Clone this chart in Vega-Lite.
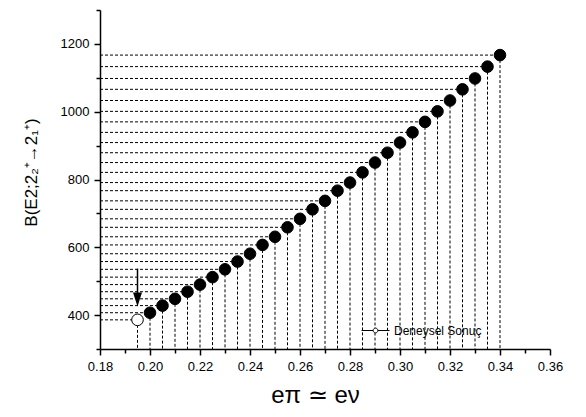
{
  "$schema": "https://vega.github.io/schema/vega-lite/v6.json",
  "width": 450,
  "height": 339,
  "autosize": {"type": "none"},
  "padding": {"left": 100, "top": 10, "right": 36, "bottom": 68},
  "background": "white",
  "config": {"view": {"stroke": null}, "font": "Liberation Sans"},
  "datasets": {
    "pts": [
      {"x": 0.195, "y": 386, "kind": "Deneysel Sonuç"},
      {"x": 0.200, "y": 407, "kind": "Hesap"},
      {"x": 0.205, "y": 428, "kind": "Hesap"},
      {"x": 0.210, "y": 448, "kind": "Hesap"},
      {"x": 0.215, "y": 469, "kind": "Hesap"},
      {"x": 0.220, "y": 490, "kind": "Hesap"},
      {"x": 0.225, "y": 512, "kind": "Hesap"},
      {"x": 0.230, "y": 535, "kind": "Hesap"},
      {"x": 0.235, "y": 558, "kind": "Hesap"},
      {"x": 0.240, "y": 581, "kind": "Hesap"},
      {"x": 0.245, "y": 607, "kind": "Hesap"},
      {"x": 0.250, "y": 631, "kind": "Hesap"},
      {"x": 0.255, "y": 659, "kind": "Hesap"},
      {"x": 0.260, "y": 684, "kind": "Hesap"},
      {"x": 0.265, "y": 712, "kind": "Hesap"},
      {"x": 0.270, "y": 737, "kind": "Hesap"},
      {"x": 0.275, "y": 767, "kind": "Hesap"},
      {"x": 0.280, "y": 791, "kind": "Hesap"},
      {"x": 0.285, "y": 821, "kind": "Hesap"},
      {"x": 0.290, "y": 850, "kind": "Hesap"},
      {"x": 0.295, "y": 879, "kind": "Hesap"},
      {"x": 0.300, "y": 909, "kind": "Hesap"},
      {"x": 0.305, "y": 939, "kind": "Hesap"},
      {"x": 0.310, "y": 970, "kind": "Hesap"},
      {"x": 0.315, "y": 1001, "kind": "Hesap"},
      {"x": 0.320, "y": 1033, "kind": "Hesap"},
      {"x": 0.325, "y": 1066, "kind": "Hesap"},
      {"x": 0.330, "y": 1098, "kind": "Hesap"},
      {"x": 0.335, "y": 1133, "kind": "Hesap"},
      {"x": 0.340, "y": 1167, "kind": "Hesap"}
    ],
    "shaft": [{"x": 0.195, "y": 537, "y2": 462}],
    "head": [{"x": 0.195, "y": 446}]
  },
  "encoding": {
    "x": {
      "field": "x",
      "type": "quantitative",
      "scale": {"domain": [0.18, 0.36], "nice": false, "zero": false},
      "axis": {
        "title": "eπ ≃ eν",
        "titleX": 215,
        "values": [0.18, 0.19, 0.2, 0.21, 0.22, 0.23, 0.24, 0.25, 0.26, 0.27, 0.28, 0.29, 0.3, 0.31, 0.32, 0.33, 0.34, 0.35, 0.36],
        "labelExpr": "round(datum.value*100)%2==0 ? format(datum.value,'.2f') : ''",
        "tickSize": {"condition": {"test": "round(datum.value*100)%2==0", "value": 6}, "value": 4},
        "grid": false,
        "domainColor": "black",
        "domainWidth": 1.5,
        "tickColor": "black",
        "tickWidth": 1.5,
        "labelColor": "black",
        "labelFontSize": 13,
        "labelPadding": 5,
        "labelFlush": false,
        "labelOverlap": false,
        "titleFontSize": 24,
        "titleFontWeight": "normal",
        "titleColor": "black",
        "titlePadding": 10
      }
    },
    "y": {
      "field": "y",
      "type": "quantitative",
      "scale": {"domain": [300, 1300], "nice": false, "zero": false},
      "axis": {
        "title": "B(E2;2₂⁺→2₁⁺)",
        "titleY": 162,
        "values": [300, 400, 500, 600, 700, 800, 900, 1000, 1100, 1200, 1300],
        "labelExpr": "(datum.value%200==0 && datum.value>=400 && datum.value<=1200) ? format(datum.value,'d') : ''",
        "tickSize": {"condition": {"test": "datum.value%200==0", "value": 6}, "value": 4},
        "grid": false,
        "domainColor": "black",
        "domainWidth": 1.5,
        "tickColor": "black",
        "tickWidth": 1.5,
        "labelColor": "black",
        "labelFontSize": 13,
        "labelPadding": 5,
        "labelFlush": false,
        "labelOverlap": false,
        "titleFontSize": 17,
        "titleFontWeight": "normal",
        "titleColor": "black",
        "titlePadding": 20
      }
    }
  },
  "layer": [
    {
      "data": {"name": "pts"},
      "mark": {"type": "rule", "strokeDash": [3, 2], "strokeWidth": 1, "color": "black"},
      "encoding": {
        "y2": {"datum": 300}
      }
    },
    {
      "data": {"name": "pts"},
      "mark": {"type": "rule", "strokeDash": [3, 2], "strokeWidth": 1, "color": "black"},
      "encoding": {
        "x": {"datum": 0.18, "type": "quantitative"},
        "x2": {"field": "x"}
      }
    },
    {
      "data": {"name": "shaft"},
      "mark": {"type": "rule", "strokeWidth": 1.5, "color": "black"},
      "encoding": {
        "y2": {"field": "y2"}
      }
    },
    {
      "data": {"name": "head"},
      "mark": {"type": "point", "filled": true, "color": "black", "shape": "M-0.65,-1L0.65,-1L0,1Z", "size": 190, "opacity": 1}
    },
    {
      "data": {"name": "pts"},
      "transform": [{"filter": "datum.kind == 'Hesap'"}],
      "mark": {"type": "point", "filled": true, "fill": "black", "stroke": "black", "strokeWidth": 1, "size": 135, "opacity": 1}
    },
    {
      "data": {"name": "pts"},
      "transform": [{"filter": "datum.kind != 'Hesap'"}],
      "mark": {"type": "point", "filled": true, "fill": "white", "strokeWidth": 1, "size": 135, "opacity": 1, "fillOpacity": 1, "strokeOpacity": 1},
      "encoding": {
        "stroke": {
          "field": "kind",
          "type": "nominal",
          "scale": {"range": ["black"]},
          "legend": {
            "title": null,
            "orient": "none",
            "legendX": 261,
            "legendY": 306,
            "padding": 0,
            "symbolType": "M-1,0H-0.17M0.17,0H1M0.17,0A0.17,0.17,0,1,1,-0.17,0A0.17,0.17,0,1,1,0.17,0",
            "symbolSize": 784,
            "symbolFillColor": "white",
            "symbolStrokeColor": "black",
            "symbolStrokeWidth": 1,
            "labelFontSize": 12,
            "labelColor": "black",
            "labelOffset": 4
          }
        }
      }
    }
  ]
}
